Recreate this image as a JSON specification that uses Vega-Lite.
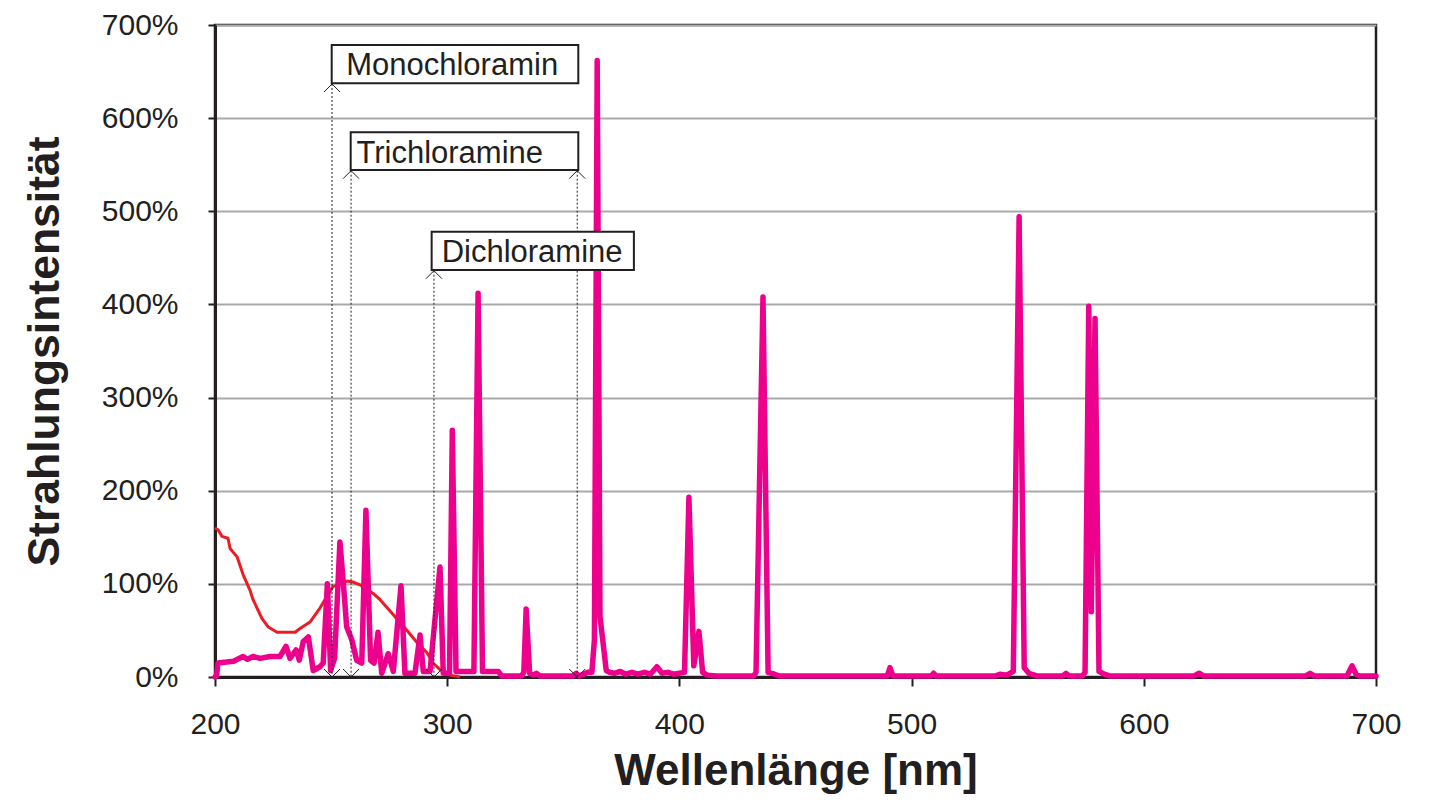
{
  "$schema": "https://vega.github.io/schema/vega-lite/v6.json",
  "autosize": "none",
  "padding": {"left": 215, "top": 25, "right": 60, "bottom": 123},
  "width": 1161,
  "height": 652,
  "background": "white",
  "config": {
    "view": {"stroke": "#231f20", "strokeWidth": 2.5},
    "font": "Liberation Sans",
    "text": {"font": "Liberation Sans"}
  },
  "datasets": {
    "absorb": [
      {"nm": 200.0, "pct": 160}, {"nm": 201.3, "pct": 158}, {"nm": 203.0, "pct": 151}, {"nm": 205.6, "pct": 149},
      {"nm": 206.5, "pct": 138}, {"nm": 209.5, "pct": 129}, {"nm": 212.1, "pct": 110}, {"nm": 215.1, "pct": 93},
      {"nm": 216.4, "pct": 83}, {"nm": 220.2, "pct": 63}, {"nm": 222.8, "pct": 54}, {"nm": 226.7, "pct": 48},
      {"nm": 234.5, "pct": 48}, {"nm": 236.6, "pct": 52}, {"nm": 240.9, "pct": 59}, {"nm": 245.2, "pct": 74},
      {"nm": 250.8, "pct": 97}, {"nm": 256.8, "pct": 103}, {"nm": 259.4, "pct": 102}, {"nm": 262.4, "pct": 99},
      {"nm": 268.0, "pct": 90}, {"nm": 271.1, "pct": 83}, {"nm": 276.7, "pct": 67}, {"nm": 282.7, "pct": 50},
      {"nm": 287.0, "pct": 37}, {"nm": 291.3, "pct": 26}, {"nm": 293.9, "pct": 15}, {"nm": 296.9, "pct": 8},
      {"nm": 301.2, "pct": 2}, {"nm": 305.5, "pct": 0}
    ],
    "lamp": [
      {"nm": 200.0, "pct": 0}, {"nm": 200.7, "pct": 2}, {"nm": 201.3, "pct": 15}, {"nm": 205.0, "pct": 16},
      {"nm": 208.0, "pct": 17}, {"nm": 212.1, "pct": 22}, {"nm": 214.0, "pct": 19}, {"nm": 216.4, "pct": 22},
      {"nm": 219.4, "pct": 20}, {"nm": 223.7, "pct": 22}, {"nm": 228.0, "pct": 22}, {"nm": 230.6, "pct": 33},
      {"nm": 232.3, "pct": 20}, {"nm": 234.9, "pct": 29}, {"nm": 236.3, "pct": 18}, {"nm": 238.0, "pct": 38},
      {"nm": 240.2, "pct": 43}, {"nm": 242.3, "pct": 7}, {"nm": 245.2, "pct": 11}, {"nm": 246.6, "pct": 15},
      {"nm": 248.4, "pct": 100}, {"nm": 249.8, "pct": 7}, {"nm": 251.5, "pct": 20}, {"nm": 253.8, "pct": 145},
      {"nm": 255.3, "pct": 100}, {"nm": 256.7, "pct": 54}, {"nm": 258.9, "pct": 40}, {"nm": 261.0, "pct": 18},
      {"nm": 263.2, "pct": 15}, {"nm": 265.0, "pct": 179}, {"nm": 267.0, "pct": 18}, {"nm": 268.5, "pct": 15},
      {"nm": 270.2, "pct": 48}, {"nm": 271.8, "pct": 4}, {"nm": 274.6, "pct": 25}, {"nm": 276.8, "pct": 6},
      {"nm": 280.1, "pct": 98}, {"nm": 281.8, "pct": 4}, {"nm": 286.1, "pct": 4}, {"nm": 288.3, "pct": 45},
      {"nm": 289.7, "pct": 6}, {"nm": 292.6, "pct": 6}, {"nm": 296.9, "pct": 118}, {"nm": 298.3, "pct": 4},
      {"nm": 301.0, "pct": 4}, {"nm": 302.2, "pct": 265}, {"nm": 303.8, "pct": 6}, {"nm": 311.5, "pct": 6},
      {"nm": 313.3, "pct": 412}, {"nm": 315.2, "pct": 6}, {"nm": 322.0, "pct": 6}, {"nm": 323.5, "pct": 1},
      {"nm": 332.0, "pct": 1}, {"nm": 333.0, "pct": 5}, {"nm": 334.0, "pct": 73}, {"nm": 335.5, "pct": 4},
      {"nm": 337.0, "pct": 2}, {"nm": 338.5, "pct": 4}, {"nm": 340.0, "pct": 1}, {"nm": 354.0, "pct": 1},
      {"nm": 355.5, "pct": 4}, {"nm": 357.0, "pct": 1}, {"nm": 360.5, "pct": 5}, {"nm": 362.3, "pct": 5},
      {"nm": 363.4, "pct": 40}, {"nm": 364.6, "pct": 662}, {"nm": 365.8, "pct": 65}, {"nm": 368.5, "pct": 7},
      {"nm": 370.0, "pct": 5}, {"nm": 372.0, "pct": 4}, {"nm": 374.5, "pct": 6}, {"nm": 377.0, "pct": 3},
      {"nm": 379.5, "pct": 5}, {"nm": 382.0, "pct": 3}, {"nm": 385.0, "pct": 5}, {"nm": 387.5, "pct": 3},
      {"nm": 390.3, "pct": 11}, {"nm": 392.5, "pct": 4}, {"nm": 395.0, "pct": 5}, {"nm": 397.5, "pct": 3},
      {"nm": 400.0, "pct": 4}, {"nm": 402.2, "pct": 5}, {"nm": 404.1, "pct": 193}, {"nm": 406.2, "pct": 12},
      {"nm": 408.4, "pct": 49}, {"nm": 410.0, "pct": 5}, {"nm": 412.0, "pct": 2}, {"nm": 416.0, "pct": 1},
      {"nm": 432.0, "pct": 1}, {"nm": 433.0, "pct": 5}, {"nm": 436.0, "pct": 408}, {"nm": 438.2, "pct": 5},
      {"nm": 441.0, "pct": 3}, {"nm": 443.0, "pct": 1}, {"nm": 489.5, "pct": 1}, {"nm": 490.7, "pct": 10},
      {"nm": 492.0, "pct": 1}, {"nm": 508.5, "pct": 1}, {"nm": 509.5, "pct": 4}, {"nm": 510.5, "pct": 1},
      {"nm": 536.0, "pct": 1}, {"nm": 538.0, "pct": 3}, {"nm": 541.0, "pct": 2}, {"nm": 543.8, "pct": 6},
      {"nm": 546.3, "pct": 494}, {"nm": 548.5, "pct": 10}, {"nm": 550.5, "pct": 4}, {"nm": 553.0, "pct": 2},
      {"nm": 554.0, "pct": 1}, {"nm": 565.0, "pct": 1}, {"nm": 566.5, "pct": 4}, {"nm": 568.0, "pct": 1},
      {"nm": 573.5, "pct": 1}, {"nm": 574.7, "pct": 5}, {"nm": 576.3, "pct": 398}, {"nm": 577.4, "pct": 70},
      {"nm": 579.0, "pct": 385}, {"nm": 580.7, "pct": 6}, {"nm": 583.0, "pct": 3}, {"nm": 585.5, "pct": 1},
      {"nm": 621.5, "pct": 1}, {"nm": 623.8, "pct": 4}, {"nm": 626.0, "pct": 1}, {"nm": 669.5, "pct": 1},
      {"nm": 671.6, "pct": 4}, {"nm": 673.5, "pct": 1}, {"nm": 687.5, "pct": 1}, {"nm": 689.7, "pct": 12},
      {"nm": 691.4, "pct": 3}, {"nm": 693.0, "pct": 1}, {"nm": 700.0, "pct": 1}
    ],
    "arrows": [
      {"substance": "Monochloramin", "nm": 250.4, "top": 636.7},
      {"substance": "Trichloramine", "nm": 258.6, "top": 543.6},
      {"substance": "Trichloramine", "nm": 356.0, "top": 543.6},
      {"substance": "Dichloramine", "nm": 294.3, "top": 436.2}
    ],
    "labels": [
      {"substance": "Monochloramin", "x1": 250.26, "x2": 356.46, "y1": 678.6, "y2": 637.4, "tx": 256.5, "ty": 655.5},
      {"substance": "Trichloramine", "x1": 258.44, "x2": 356.46, "y1": 584.8, "y2": 544.3, "tx": 260.9, "ty": 562.0},
      {"substance": "Dichloramine", "x1": 293.3, "x2": 380.4, "y1": 478.1, "y2": 437.0, "tx": 297.6, "ty": 455.0}
    ]
  },
  "layer": [
    {
      "data": {"name": "absorb"},
      "mark": {"type": "line", "color": "#ed1c24", "strokeWidth": 3, "strokeJoin": "round"},
      "encoding": {
        "x": {
          "field": "nm", "type": "quantitative",
          "scale": {"domain": [200, 700], "nice": false, "zero": false},
          "axis": {
            "title": "Wellenlänge [nm]", "values": [200, 300, 400, 500, 600, 700],
            "grid": false, "domainColor": "#231f20", "domainWidth": 3,
            "tickColor": "#231f20", "tickWidth": 2, "tickSize": 9,
            "labelFontSize": 30, "labelColor": "#231f20", "labelPadding": 23, "labelFlush": false,
            "titleFontSize": 44, "titleFontWeight": "bold", "titleColor": "#231f20", "titlePadding": 10
          }
        },
        "y": {
          "field": "pct", "type": "quantitative",
          "scale": {"domain": [0, 700], "nice": false},
          "axis": {
            "title": "Strahlungsintensität", "values": [0, 100, 200, 300, 400, 500, 600, 700],
            "labelExpr": "datum.value + '%'",
            "grid": true, "gridColor": "#a7a9ac", "gridWidth": 2,
            "domainColor": "#231f20", "domainWidth": 3,
            "tickColor": "#231f20", "tickWidth": 2, "tickSize": 7,
            "labelFontSize": 30, "labelColor": "#231f20", "labelPadding": 30,
            "titleFontSize": 44.5, "titleFontWeight": "bold", "titleColor": "#231f20", "titlePadding": 34
          }
        }
      }
    },
    {
      "data": {"name": "lamp"},
      "mark": {"type": "line", "color": "#ec008c", "strokeWidth": 5.5, "strokeJoin": "round", "strokeCap": "round"},
      "encoding": {
        "x": {"field": "nm", "type": "quantitative"},
        "y": {"field": "pct", "type": "quantitative"}
      }
    },
    {
      "data": {"name": "arrows"},
      "mark": {"type": "rule", "color": "#231f20", "strokeWidth": 1, "strokeDash": [2, 2]},
      "encoding": {
        "x": {"field": "nm", "type": "quantitative"},
        "y": {"field": "top", "type": "quantitative"},
        "y2": {"datum": 0}
      }
    },
    {
      "data": {"name": "arrows"},
      "mark": {"type": "point", "shape": "M-1,1L0,0L1,1", "size": 256, "filled": false, "stroke": "#231f20", "strokeWidth": 1, "opacity": 1},
      "encoding": {
        "x": {"field": "nm", "type": "quantitative"},
        "y": {"field": "top", "type": "quantitative"}
      }
    },
    {
      "data": {"name": "arrows"},
      "mark": {"type": "point", "shape": "M-1,-1L0,0L1,-1", "size": 256, "filled": false, "stroke": "#231f20", "strokeWidth": 1, "opacity": 1},
      "encoding": {
        "x": {"field": "nm", "type": "quantitative"},
        "y": {"datum": 0}
      }
    },
    {
      "data": {"name": "labels"},
      "mark": {"type": "rect", "fill": "white", "stroke": "#231f20", "strokeWidth": 2},
      "encoding": {
        "x": {"field": "x1", "type": "quantitative"},
        "x2": {"field": "x2"},
        "y": {"field": "y1", "type": "quantitative"},
        "y2": {"field": "y2"}
      }
    },
    {
      "data": {"name": "labels"},
      "mark": {"type": "text", "align": "left", "baseline": "middle", "fontSize": 31, "color": "#231f20"},
      "encoding": {
        "x": {"field": "tx", "type": "quantitative"},
        "y": {"field": "ty", "type": "quantitative"},
        "text": {"field": "substance"}
      }
    }
  ]
}
